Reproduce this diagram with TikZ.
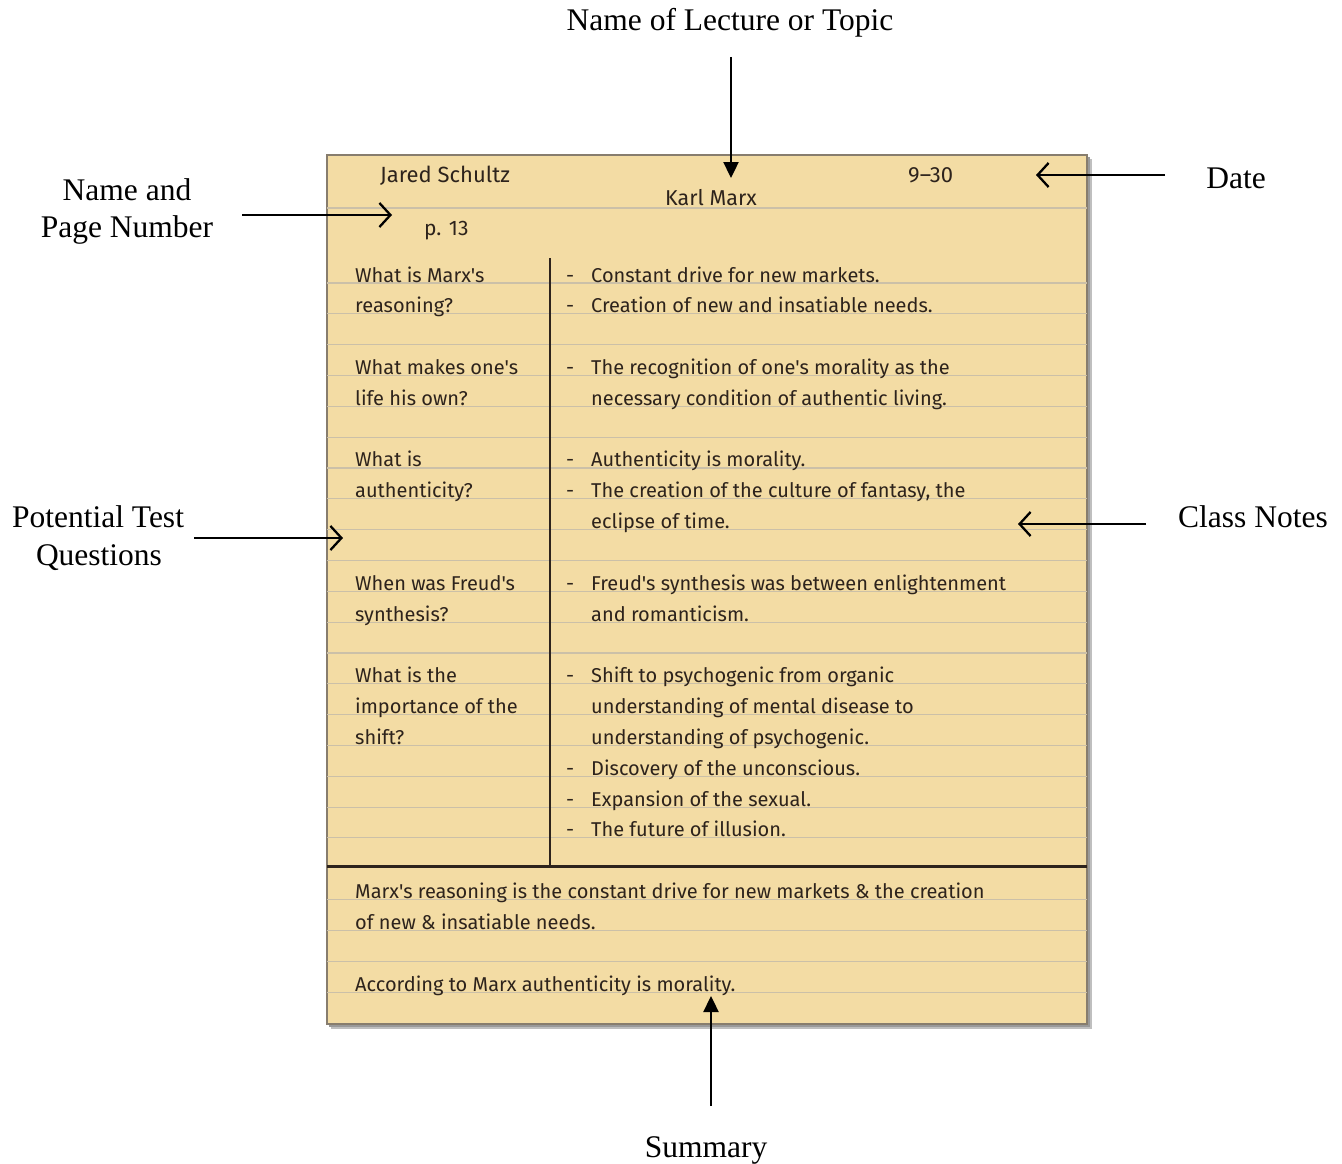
\documentclass[tikz,border=0pt]{standalone}
\usepackage{fontspec}
\setmainfont{Liberation Serif}
\newfontfamily\handfont{Fira Sans}
\usetikzlibrary{arrows.meta}
\definecolor{paper}{RGB}{243,220,164}
\definecolor{rulec}{RGB}{203,192,168}
\definecolor{ink}{RGB}{45,35,28}
\definecolor{edgec}{RGB}{135,125,110}
\begin{document}
\begin{tikzpicture}[x=1pt,y=-1pt,
  hw/.style={anchor=base west, inner sep=0pt, font=\handfont\fontsize{20}{20}\selectfont, text=ink},
  lbl/.style={font=\fontsize{31.5}{37}\selectfont, inner sep=0pt, anchor=base},
  chev/.style={line width=2.3pt, -{Straight Barb[length=11pt,width=24pt,line width=2.3pt]}},
  tri/.style={line width=2.4pt, -{Triangle[length=16pt,width=15pt]}}]
\useasboundingbox[fill=white] (0,0) rectangle (1342,1164);
% shadow and paper
\fill[black!25] (331,159) rectangle (1092,1029);
\fill[black!40] (329,157) rectangle (1090,1027);
\fill[paper, draw=edgec, line width=1.2pt] (327,155) rectangle (1087,1024);
% ruled lines
\draw[rulec, line width=1.2pt] (327,208) -- (1087,208);
\foreach \k in {0,...,18,20,21,22,23}
  \draw[rulec, line width=1.1pt] (327,{283+30.83*\k}) -- (1087,{283+30.83*\k});
% column divider and summary line
\draw[ink, line width=1.8pt] (550,258) -- (550,866);
\draw[ink, line width=3pt] (327,866) -- (1087,866);
% header
\node[hw, font=\handfont\fontsize{22}{22}\selectfont] (name) at (380,182) {Jared Schultz};
\node[hw, font=\handfont\fontsize{21.5}{22}\selectfont] (topic) at (665,205) {Karl Marx};
\node[hw, font=\handfont\fontsize{22}{22}\selectfont] (date) at (908,182) {9–30};
\node[hw, font=\handfont\fontsize{21}{22}\selectfont] (page) at (424,235) {p. 13};
% questions
\node[hw] (q1a) at (355,{282+30.83*0}) {What is Marx's};
\node[hw] (q1b) at (355,{282+30.83*1}) {reasoning?};
\node[hw] (q2a) at (355,{282+30.83*3}) {What makes one's};
\node[hw] (q2b) at (355,{282+30.83*4}) {life his own?};
\node[hw] (q3a) at (355,{282+30.83*6}) {What is};
\node[hw] (q3b) at (355,{282+30.83*7}) {authenticity?};
\node[hw] (q4a) at (355,{282+30.83*10}) {When was Freud's};
\node[hw] (q4b) at (355,{282+30.83*11}) {synthesis?};
\node[hw] (q5a) at (355,{282+30.83*13}) {What is the};
\node[hw] (q5b) at (355,{282+30.83*14}) {importance of the};
\node[hw] (q5c) at (355,{282+30.83*15}) {shift?};
% notes bullets
\foreach \k/\nm in {0/b0,1/b1,3/b3,6/b6,7/b7,10/b10,13/b13,16/b16,17/b17,18/b18}
  \node[hw] (\nm) at (566,{282+30.83*\k}) {-};
% notes
\node[hw] (n0) at (591,{282+30.83*0}) {Constant drive for new markets.};
\node[hw] (n1) at (591,{282+30.83*1}) {Creation of new and insatiable needs.};
\node[hw] (n3) at (591,{282+30.83*3}) {The recognition of one's morality as the};
\node[hw] (n4) at (591,{282+30.83*4}) {necessary condition of authentic living.};
\node[hw] (n6) at (591,{282+30.83*6}) {Authenticity is morality.};
\node[hw] (n7) at (591,{282+30.83*7}) {The creation of the culture of fantasy, the};
\node[hw] (n8) at (591,{282+30.83*8}) {eclipse of time.};
\node[hw] (n10) at (591,{282+30.83*10}) {Freud's synthesis was between enlightenment};
\node[hw] (n11) at (591,{282+30.83*11}) {and romanticism.};
\node[hw] (n13) at (591,{282+30.83*13}) {Shift to psychogenic from organic};
\node[hw] (n14) at (591,{282+30.83*14}) {understanding of mental disease to};
\node[hw] (n15) at (591,{282+30.83*15}) {understanding of psychogenic.};
\node[hw] (n16) at (591,{282+30.83*16}) {Discovery of the unconscious.};
\node[hw] (n17) at (591,{282+30.83*17}) {Expansion of the sexual.};
\node[hw] (n18) at (591,{282+30.83*18}) {The future of illusion.};
% summary
\node[hw] (s1) at (355,{282+30.83*20}) {Marx's reasoning is the constant drive for new markets \& the creation};
\node[hw] (s2) at (355,{282+30.83*21}) {of new \& insatiable needs.};
\node[hw] (s3) at (355,{282+30.83*23}) {According to Marx authenticity is morality.};
% outer labels
\node[lbl] (Ltopic) at (730,31) {Name of Lecture or Topic};
\node[lbl] (Lname1) at (127,200) {Name and};
\node[lbl] (Lname2) at (127,237) {Page Number};
\node[lbl] (Ldate) at (1236,188) {Date};
\node[lbl] (Lpot1) at (98,527) {Potential Test};
\node[lbl] (Lpot2) at (99,565) {Questions};
\node[lbl] (Lclass) at (1253,527) {Class Notes};
\node[lbl] (Lsum) at (706,1157) {Summary};
% arrow end points
\coordinate (tA) at (731,57);   \coordinate (tB) at (731,178);
\coordinate (nA) at (242,215);  \coordinate (nB) at (392,215);
\coordinate (dA) at (1165,175); \coordinate (dB) at (1036,175);
\coordinate (pA) at (194,538);  \coordinate (pB) at (343,538);
\coordinate (cA) at (1146,524); \coordinate (cB) at (1018,524);
\coordinate (sA) at (711,1106); \coordinate (sB) at (711,996);
\draw[tri] (tA) -- (tB);
\draw[chev] (nA) -- (nB);
\draw[chev] (dA) -- (dB);
\draw[chev] (pA) -- (pB);
\draw[chev] (cA) -- (cB);
\draw[tri] (sA) -- (sB);
\end{tikzpicture}
\end{document}
